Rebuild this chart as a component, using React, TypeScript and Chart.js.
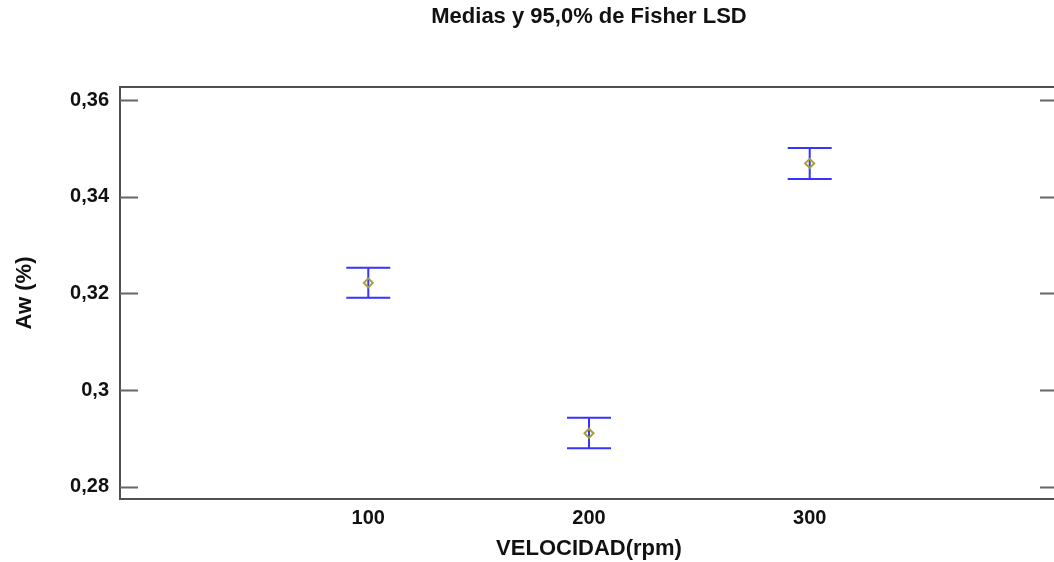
import React, { useEffect, useRef } from "react";
import { Chart, registerables } from "chart.js";

Chart.register(...registerables);

// ---- Data ----
const categories = [100, 200, 300];
const means = [0.3222, 0.2911, 0.3469];
const lower = [0.3191, 0.288, 0.3437];
const upper = [0.3253, 0.2943, 0.3501];
const yTicks = [0.28, 0.3, 0.32, 0.34, 0.36];
const yTickLabels = ["0,28", "0,3", "0,32", "0,34", "0,36"];
const xTicks = [100, 200, 300];
const chartTitle = "Medias y 95,0% de Fisher LSD";
const xTitle = "VELOCIDAD(rpm)";
const yTitle = "Aw (%)";

const FONT = "'Liberation Sans', Arial, sans-serif";

export default function App() {
  const ref = useRef<HTMLCanvasElement | null>(null);

  useEffect(() => {
    const canvas = ref.current;
    if (!canvas) return;

    const framePlugin = {
      id: "framePlugin",
      beforeDatasetsDraw(chart: any) {
        const ctx = chart.ctx;
        const xs = chart.scales.x;
        const ys = chart.scales.y;
        ctx.save();
        ctx.strokeStyle = "#3535ff";
        ctx.lineWidth = 2;
        categories.forEach((c, i) => {
          const px = xs.getPixelForValue(c);
          const pl = ys.getPixelForValue(lower[i]);
          const pu = ys.getPixelForValue(upper[i]);
          ctx.beginPath();
          ctx.moveTo(px, pu);
          ctx.lineTo(px, pl);
          ctx.moveTo(px - 22, pu);
          ctx.lineTo(px + 22, pu);
          ctx.moveTo(px - 22, pl);
          ctx.lineTo(px + 22, pl);
          ctx.stroke();
        });
        ctx.restore();
      },
      afterDraw(chart: any) {
        const ctx = chart.ctx;
        const { left, right, top, bottom } = chart.chartArea;
        const xs = chart.scales.x;
        const ys = chart.scales.y;
        ctx.save();
        // frame
        ctx.strokeStyle = "#505050";
        ctx.lineWidth = 2;
        ctx.strokeRect(left, top, right - left, bottom - top);
        // inward tick marks, left & right
        ctx.lineWidth = 2;
        ctx.strokeStyle = "#666666";
        yTicks.forEach((v) => {
          const py = Math.round(ys.getPixelForValue(v)) + 0.5;
          ctx.beginPath();
          ctx.moveTo(left, py);
          ctx.lineTo(left + 18, py);
          ctx.moveTo(right, py);
          ctx.lineTo(right - 18, py);
          ctx.stroke();
        });
        // texts
        ctx.fillStyle = "#111111";
        ctx.textAlign = "center";
        ctx.textBaseline = "middle";
        ctx.font = `bold 22px ${FONT}`;
        const cx = xs.getPixelForValue(200);
        ctx.fillText(chartTitle, cx, 17);
        ctx.fillText(xTitle, cx, 549);
        ctx.translate(25, 293);
        ctx.rotate(-Math.PI / 2);
        ctx.fillText(yTitle, 0, 0);
        ctx.restore();
      },
    };

    const chart = new Chart(canvas, {
      type: "scatter",
      data: {
        datasets: [
          {
            data: categories.map((c, i) => ({ x: c, y: means[i] })),
            pointStyle: "rectRot",
            pointRadius: 4.5,
            pointHoverRadius: 4.5,
            borderColor: "#a99f3a",
            backgroundColor: "rgba(0,0,0,0)",
            borderWidth: 2,
          },
        ],
      },
      options: {
        responsive: false,
        animation: false,
        devicePixelRatio: 1,
        events: [],
        layout: { padding: { left: 0, top: 87, right: 12, bottom: 0 } },
        plugins: {
          legend: { display: false },
          tooltip: { enabled: false },
          title: { display: false },
        },
        scales: {
          x: {
            type: "linear",
            min: -12.5,
            max: 412.5,
            grid: { display: false, drawTicks: false },
            border: { display: false },
            afterBuildTicks: (s: any) => {
              s.ticks = xTicks.map((v) => ({ value: v }));
            },
            afterFit: (s: any) => {
              s.height = 63;
            },
            ticks: {
              padding: 7,
              color: "#111111",
              autoSkip: false,
              maxRotation: 0,
              font: { family: FONT, size: 20, weight: "bold" },
              callback: (v: any) => String(v),
            },
          },
          y: {
            type: "linear",
            min: 0.2775,
            max: 0.3627,
            grid: { display: false, drawTicks: false },
            border: { display: false },
            afterBuildTicks: (s: any) => {
              s.ticks = yTicks.map((v) => ({ value: v }));
            },
            afterFit: (s: any) => {
              s.width = 120;
            },
            ticks: {
              padding: 11,
              color: "#111111",
              autoSkip: false,
              font: { family: FONT, size: 20, weight: "bold" },
              callback: (v: any) => {
                const idx = yTicks.findIndex((t) => Math.abs(t - v) < 1e-9);
                return idx >= 0 ? yTickLabels[idx] : "";
              },
            },
          },
        },
      },
      plugins: [framePlugin],
    } as any);

    return () => chart.destroy();
  }, []);

  return (
    <div
      style={{
        position: "absolute",
        left: 0,
        top: 0,
        width: 1054,
        height: 562,
        overflow: "hidden",
        background: "#ffffff",
      }}
    >
      <canvas ref={ref} width={1070} height={562} style={{ display: "block" }} />
    </div>
  );
}
